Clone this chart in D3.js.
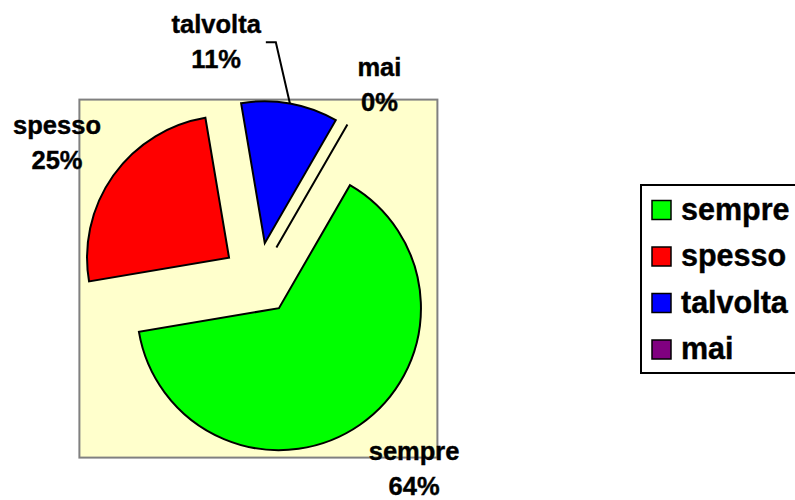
<!DOCTYPE html>
<html><head><meta charset="utf-8">
<script src="https://cdn.jsdelivr.net/npm/d3@7"></script>
<style>
html,body{margin:0;padding:0;background:#fff;}
svg{display:block;font-family:"Liberation Sans",Arial,Helvetica,sans-serif;font-weight:bold;}
</style>
</head><body>
<svg id="chart" width="795" height="500"></svg>
<script>
// ---- data ----
const categories = ["sempre", "spesso", "talvolta", "mai"];
const values = [64, 25, 11, 0];
const colors = ["#00FF00", "#FF0000", "#0000FF", "#800080"];

// ---- layout (not data) ----
const cx = 258.4, cy = 278.6, R = 142, explode = 36;
const startDeg = 30;
const labelRadius = 236;
const labelNudge = { sempre: [21, -12], spesso: [-9, -8], talvolta: [-84, -13], mai: [3, 2] };
const leaderFor = ["talvolta"];

const svg = d3.select("#chart");
const total = d3.sum(values);
const pct = d3.format(".0%");

// plot area
const half = R + explode + 1;
svg.append("rect")
  .attr("x", cx - half).attr("y", cy - half)
  .attr("width", 2 * half).attr("height", 2 * half)
  .attr("fill", "#FFFFCC").attr("stroke", "#808080").attr("stroke-width", 2);

const a0 = startDeg * Math.PI / 180;
const pie = d3.pie().sort(null).value(d => d.v).startAngle(a0).endAngle(a0 + 2 * Math.PI);
const arcs = pie(categories.map((c, i) => ({ c, v: values[i], col: colors[i] })));
const arc = d3.arc().innerRadius(0).outerRadius(R);

const mid = a => (a.startAngle + a.endAngle) / 2;

const slices = svg.append("g").selectAll("g").data(arcs).join("g")
  .attr("transform", a => {
    const m = mid(a);
    return `translate(${cx + explode * Math.sin(m)},${cy - explode * Math.cos(m)})`;
  });
slices.append("path")
  .attr("d", arc)
  .attr("fill", a => a.data.col)
  .attr("stroke", "#000").attr("stroke-width", 2).attr("stroke-linejoin", "miter");

// labels
const labels = svg.append("g").attr("font-size", 25.5).attr("text-anchor", "middle")
  .attr("fill", "#000").attr("stroke", "#000").attr("stroke-width", 0.4);
arcs.forEach(a => {
  const m = mid(a);
  const nd = labelNudge[a.data.c];
  const x = cx + labelRadius * Math.sin(m) + nd[0];
  const y = cy - labelRadius * Math.cos(m) + nd[1];
  const t1 = labels.append("text").attr("x", x).attr("y", y).text(a.data.c);
  labels.append("text").attr("x", x).attr("y", y + 35).text(pct(a.data.v / total));
  if (leaderFor.includes(a.data.c)) {
    const w = t1.node().getComputedTextLength();
    const sx = x + w / 2 + 5, sy = y + 9;
    const ox = cx + explode * Math.sin(m), oy = cy - explode * Math.cos(m);
    const ex = ox + R * Math.sin(m), ey = oy - R * Math.cos(m);
    svg.append("polyline")
      .attr("points", `${sx},${sy} ${sx + 10},${sy} ${ex},${ey}`)
      .attr("fill", "none").attr("stroke", "#000").attr("stroke-width", 2);
  }
});

// legend
const lg = svg.append("g");
lg.append("rect").attr("x", 641).attr("y", 185).attr("width", 170).attr("height", 188)
  .attr("fill", "#fff").attr("stroke", "#000").attr("stroke-width", 2);
const items = lg.selectAll("g.item").data(categories).join("g").attr("class", "item")
  .attr("transform", (d, i) => `translate(0,${210 + i * 46.5})`);
items.append("rect").attr("x", 652).attr("y", -9.5).attr("width", 19).attr("height", 19)
  .attr("fill", (d, i) => colors[i]).attr("stroke", "#000").attr("stroke-width", 1.5);
items.append("text").attr("x", 681).attr("y", 9.5).attr("font-size", 30.5)
  .attr("fill", "#000").attr("stroke", "#000").attr("stroke-width", 0.4).text(d => d);
</script>
</body></html>
